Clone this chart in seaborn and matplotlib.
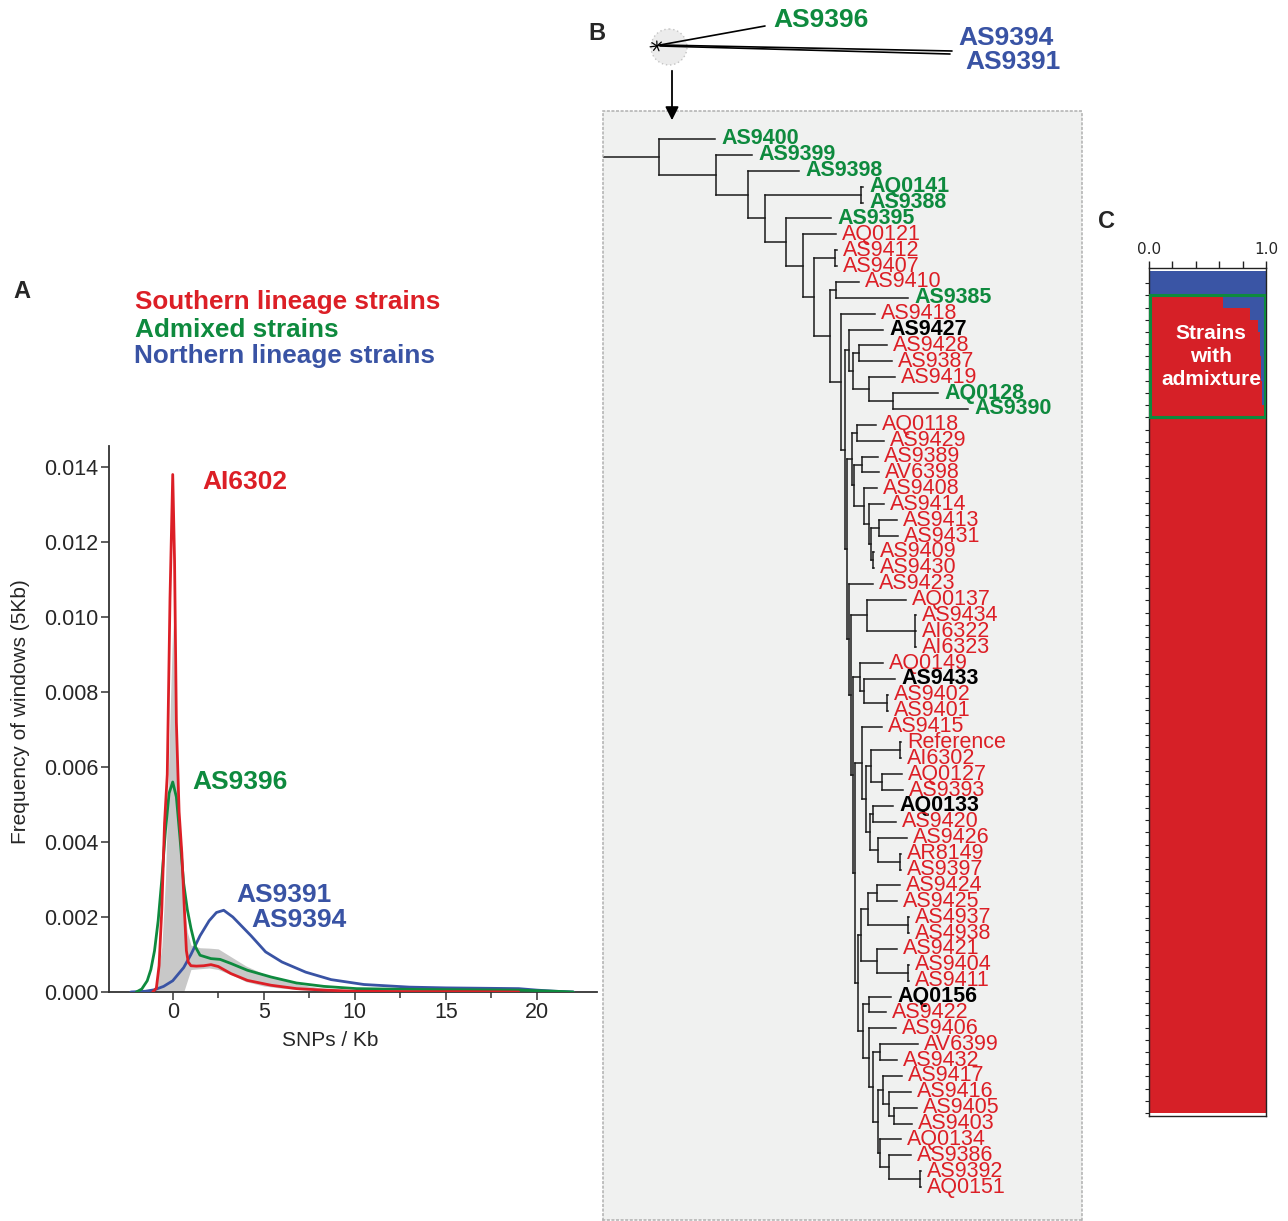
import matplotlib
matplotlib.use("Agg")
import numpy as np
import pandas as pd
import matplotlib.pyplot as plt
from matplotlib.patches import Circle, Rectangle
from matplotlib.collections import LineCollection
import seaborn as sns


W, H = 1288, 1221
RED = "#dc1f26"
GREEN = "#0e8a3e"
BLUE = "#3953a4"
BAR_RED = "#d62027"
BAR_BLUE = "#3a55a5"

# ---- panel A: SNP density per strain ----
ai6302_x = [-1.1, -0.9, -0.75, -0.6, -0.45, -0.3, -0.15, 0, 0.1, 0.2, 0.35, 0.5, 0.65, 0.75,
            0.85, 1.0, 1.3, 1.7, 2.1, 2.5, 3.2, 4.1, 5.4, 6.8, 8.3, 10, 13, 16, 19]
ai6302_y = [0, 0.0001, 0.0007, 0.0022, 0.0045, 0.0058, 0.0105, 0.0138, 0.0115, 0.0072, 0.0048,
            0.0037, 0.0021, 0.0011, 0.0008, 0.0007, 0.00069, 0.0007, 0.00073, 0.00068, 0.00049,
            0.00031, 0.00018, 0.00009, 0.00005, 0.00002, 0.00001, 0.00001, 0]

as9396_x = [-2.0, -1.7, -1.4, -1.2, -1.0, -0.8, -0.6, -0.4, -0.2, 0, 0.2, 0.4, 0.6, 0.8, 1.0,
            1.25, 1.5, 2.1, 2.6, 3.2, 4.1, 5.4, 6.8, 8.3, 10.1, 13, 16, 19, 21, 22]
as9396_y = [0, 0.00008, 0.0003, 0.0006, 0.0011, 0.0019, 0.003, 0.0043, 0.0053, 0.0056, 0.0052,
            0.0041, 0.0029, 0.0022, 0.0017, 0.0012, 0.00098, 0.00089, 0.00087, 0.00076, 0.00058,
            0.0004, 0.00024, 0.00015, 0.00009, 0.00007, 0.00006, 0.00005, 0.00002, 0]

as9391_x = [-2.3, -1.5, -1.0, -0.5, 0, 0.6, 1.0, 1.5, 2.0, 2.4, 2.8, 3.3, 3.8, 4.3, 5.1, 6.0,
            7.3, 8.7, 10.5, 13, 15, 17, 19, 20, 21, 22]
as9391_y = [0, 0.00002, 0.00006, 0.00015, 0.0003, 0.00065, 0.001, 0.0015, 0.0019, 0.00212,
            0.00218, 0.002, 0.00175, 0.0015, 0.00107, 0.0008, 0.00053, 0.00033, 0.0002, 0.00013,
            0.00011, 0.0001, 0.00009, 0.00005, 0.00002, 0]

# grey envelope of the southern lineage strains
band_x = [-1.2, -0.9, -0.6, -0.4, -0.2, 0, 0.2, 0.4, 0.6, 0.8, 1.0, 1.5, 2.0, 2.5, 3.0, 3.5,
          4, 5, 6, 7, 8, 10, 12]
band_lo = [0, 0, 0, 0, 0, 0, 0, 0, 0, 0.0003, 0.0006, 0.00062, 0.00064, 0.0006, 0.0005,
           0.0004, 0.00028, 0.00016, 0.0001, 0.00006, 0.00003, 0, 0]
band_hi = [0, 0.0002, 0.0012, 0.003, 0.0065, 0.0098, 0.0068, 0.004, 0.0024, 0.0016, 0.00125,
           0.00118, 0.00117, 0.00115, 0.001, 0.00085, 0.0007, 0.00048, 0.00032, 0.0002,
           0.00012, 0.00005, 0]

# ---- panel B: tree, "name@depth" where depth is the node position along the tree ----
CLADE_J = "(AS9427@280,((AS9428@284,AS9387@289)@256,(AS9419@292,(AQ0128@335,AS9390@365)@290)@266)@250)@246"
CLADE_P = ("((AQ0118@273,AS9429@281)@254,((AS9389@275,AV6398@276)@259,(AS9408@274,(AS9414@281,"
           "((AS9413@294,AS9431@295)@276,(AS9409@271,AS9430@271)@270)@268)@266)@261)@251)@249")
CLADE_C4 = "(AQ0137@303,(AS9434@313,AI6322@313,AI6323@313)@312)@264"
CLADE_C5 = "(AQ0149@280,(AS9433@292,(AS9402@285,AS9401@285)@284)@261)@257"
CLADE_C6 = ("(AS9415@279,(((Reference@298,AI6302@298)@297,(AQ0127@299,AS9393@300)@279)@268,"
            "((AQ0133@290,AS9420@293)@270,(AS9426@304,(AR8149@298,AS9397@298)@297)@275)@267)@263)@259")
CLADE_C7 = ("(((AS9424@297,AS9425@294)@274,(AS4937@306,AS4938@306)@305)@265,"
            "(AS9421@294,(AS9404@306,AS9411@306)@305)@274)@258")
CLADE_C8 = ("((AQ0156@288,AS9422@283)@266,(AS9406@293,((AV6399@315,AS9432@294)@277,"
            "((AS9417@299,(AS9416@308,(AS9405@314,AS9403@309)@291)@286)@280,"
            "(AQ0134@298,(AS9386@308,(AS9392@318,AQ0151@318)@317)@286)@277)@275)@270)@266)@260")
CLADE_X2 = ("(" + CLADE_P + ",(AS9423@270,(" + CLADE_C4 + ",(" + CLADE_C5 + ",(" + CLADE_C6 +
            ",(" + CLADE_C7 + "," + CLADE_C8 + ")@255)@252)@250)@248)@246)@244")
TREE = ("(AS9400@112,(AS9399@149,(AS9398@196,((AQ0141@260,AS9388@260)@258,(AS9395@228,"
        "(AQ0121@233,((AS9412@234,AS9407@234)@232,((AS9410@256,AS9385@305)@233,"
        "(AS9418@272,(" + CLADE_J + "," + CLADE_X2 + ")@242)@238)@227)@211)@200)@183)@162)@145)@113)@56")

GREEN_LEAVES = ["AS9400", "AS9399", "AS9398", "AQ0141", "AS9388", "AS9395", "AS9385", "AQ0128", "AS9390"]
BLACK_LEAVES = ["AS9427", "AS9433", "AQ0133", "AQ0156"]

# ---- panel C: northern ancestry fraction per strain ----
north_q = [1.0, 1.0]
admix_q = [0.37, 0.14, 0.065, 0.055, 0.05, 0.045, 0.04, 0.035, 0.03, 0.02]
south_q = [0.0] * 57


def parse(s):
    pos = 0

    def node():
        nonlocal pos
        if s[pos] == "(":
            pos += 1
            kids = [node()]
            while s[pos] == ",":
                pos += 1
                kids.append(node())
            pos += 1
            name = None
        else:
            j = pos
            while s[pos] != "@":
                pos += 1
            name = s[j:pos]
            kids = []
        pos += 1
        j = pos
        while pos < len(s) and s[pos] not in ",)":
            pos += 1
        return {"name": name, "depth": float(s[j:pos]), "kids": kids}

    return node()


leaves = []


def layout(n):
    if not n["kids"]:
        n["y"] = len(leaves)
        leaves.append(n)
        return
    for k in n["kids"]:
        layout(k)
    n["y"] = (n["kids"][0]["y"] + n["kids"][-1]["y"]) / 2


def collect(n, segs):
    for k in n["kids"]:
        segs.append([(n["depth"], k["y"]), (k["depth"], k["y"])])
        collect(k, segs)
    if n["kids"]:
        segs.append([(n["depth"], n["kids"][0]["y"]), (n["depth"], n["kids"][-1]["y"])])


def fig_rect(x0, y0, x1, y1):
    return [x0 / W, 1 - y1 / H, (x1 - x0) / W, (y1 - y0) / H]


sns.set_theme(style="ticks")
plt.rcParams["font.family"] = ["Liberation Sans", "DejaVu Sans"]

fig = plt.figure(figsize=(W / 100, H / 100), dpi=100)

# ---------------- panel A ----------------
ax = fig.add_axes(fig_rect(109, 446, 597, 992))
ax.fill_between(band_x, band_lo, band_hi, color="#c8c8c8", lw=0, zorder=1)
dens = pd.concat([
    pd.DataFrame({"strain": "AI6302", "snp": ai6302_x, "freq": ai6302_y}),
    pd.DataFrame({"strain": "AS9396", "snp": as9396_x, "freq": as9396_y}),
    pd.DataFrame({"strain": "AS9391", "snp": as9391_x, "freq": as9391_y}),
])
sns.lineplot(data=dens, x="snp", y="freq", hue="strain", ax=ax, legend=False,
             palette={"AI6302": RED, "AS9396": GREEN, "AS9391": BLUE},
             hue_order=["AS9391", "AS9396", "AI6302"], linewidth=2.0, zorder=3)
ax.set_xlim(-3.5, 23.3)
ax.set_ylim(0, 0.01456)
ax.set_xticks([0, 5, 10, 15, 20])
ax.set_xticks([2.5, 7.5, 12.5, 17.5], minor=True)
ax.set_yticks(np.arange(0, 0.0141, 0.002))
ax.yaxis.set_major_formatter(matplotlib.ticker.FormatStrFormatter("%.3f"))
ax.tick_params(axis="both", labelsize=15.5, length=6, width=1.1, color="#333333", pad=1.5)
ax.tick_params(axis="x", which="minor", length=4, width=1.1, color="#333333")
for s in ["top", "right"]:
    ax.spines[s].set_visible(False)
for s in ["left", "bottom"]:
    ax.spines[s].set_color("#333333")
    ax.spines[s].set_linewidth(1.3)
ax.set_xlabel("SNPs / Kb", fontsize=15)
ax.set_ylabel("Frequency of windows (5Kb)", fontsize=15)
ax.xaxis.set_label_coords(0.453, -0.072)
ax.yaxis.set_label_coords(-0.162, 0.513)
ax.set_facecolor("none")
ax.text(1.6, 0.0136, "AI6302", color=RED, fontsize=19, fontweight="bold", va="center")
ax.text(1.05, 0.0056, "AS9396", color=GREEN, fontsize=19, fontweight="bold", va="center")
ax.text(3.5, 0.00259, "AS9391", color=BLUE, fontsize=19, fontweight="bold", va="center")
ax.text(4.3, 0.00191, "AS9394", color=BLUE, fontsize=19, fontweight="bold", va="center")

# ---------------- panel B ----------------
root = parse(TREE)
layout(root)
segs = [[(0, root["y"]), (root["depth"], root["y"])]]
collect(root, segs)

axb = fig.add_axes(fig_rect(603, 111, 1082, 1220))
axb.set_facecolor("#f0f1f0")
axb.add_collection(LineCollection(segs, colors="#1a1a1a", linewidths=1.1, capstyle="projecting"))
for lf in leaves:
    nm = lf["name"]
    if nm in GREEN_LEAVES:
        col, wt = GREEN, "bold"
    elif nm in BLACK_LEAVES:
        col, wt = "black", "bold"
    else:
        col, wt = RED, "normal"
    axb.text(lf["depth"] + 6, lf["y"], nm, color=col, fontweight=wt, fontsize=15.5,
             va="center", ha="left")
axb.set_xlim(0, 479)
axb.set_ylim(68.07, -1.763)
axb.set_xticks([])
axb.set_yticks([])
for s in axb.spines.values():
    s.set_linestyle((0, (1, 2)))
    s.set_color("#b0b0b0")
    s.set_linewidth(1.1)

# ---------------- panel C ----------------
q = north_q + admix_q + south_q
rows = np.arange(len(q))
axc = fig.add_axes(fig_rect(1149, 268, 1266, 1116))
axc.barh(rows, [1.0] * len(q), height=1.0, color=BAR_RED, lw=0)
axc.barh(rows, q, left=[1 - v for v in q], height=1.0, color=BAR_BLUE, lw=0)
n0 = len(north_q)
axc.add_patch(Rectangle((0.005, n0 - 0.5), 0.99, len(admix_q), fill=False,
                        edgecolor=GREEN, lw=2.2, zorder=5))
axc.text(0.53, n0 - 0.5 + len(admix_q) / 2, "Strains\nwith\nadmixture", color="white",
         fontsize=15, fontweight="bold", ha="center", va="center", linespacing=1.25, zorder=6)
axc.set_xlim(0, 1)
axc.set_ylim(len(q) - 0.25, -0.75)
axc.xaxis.tick_top()
axc.set_xticks([0, 0.2, 0.4, 0.6, 0.8, 1.0])
axc.set_xticklabels(["0.0", "", "", "", "", "1.0"], family="DejaVu Sans", fontsize=11)
axc.set_yticks(np.arange(len(q)) + 0.5)
axc.set_yticklabels([])
axc.tick_params(axis="x", length=5, width=1, color="#222222", pad=3)
axc.tick_params(axis="y", length=3, width=0.8, color="#222222")
for s in axc.spines.values():
    s.set_color("#222222")
    s.set_linewidth(1.0)

# ---------------- overlay: panel letters, legend, inset ----------------
ov = fig.add_axes([0, 0, 1, 1])
ov.set_xlim(0, W)
ov.set_ylim(H, 0)
ov.axis("off")
ov.text(22, 291, "A", fontsize=17, fontweight="bold", ha="center", va="center")
ov.text(597, 34, "B", fontsize=17, fontweight="bold", ha="center", va="center")
ov.text(1107, 222, "C", fontsize=17, fontweight="bold", ha="center", va="center")

ov.text(135, 302, "Southern lineage strains", color=RED, fontsize=18.8, fontweight="bold", va="center")
ov.text(135, 330, "Admixed strains", color=GREEN, fontsize=18.8, fontweight="bold", va="center")
ov.text(134, 356, "Northern lineage strains", color=BLUE, fontsize=18.8, fontweight="bold", va="center")

ov.add_patch(Circle((669, 47), 18, facecolor="#ececec", edgecolor="#c4c4c4", lw=1,
                    linestyle=(0, (1, 2))))
ov.plot([660, 765], [45, 26], color="black", lw=1.2)
ov.plot([660, 952], [45, 51], color="black", lw=1.2)
ov.plot([660, 950], [46, 54], color="black", lw=1.2)
for a in [0.3, 0.9, 1.6, 2.4, 3.3, 4.2, 5.0]:
    ov.plot([657, 657 + 7 * np.cos(a)], [46, 46 - 5 * np.sin(a)], color="black", lw=0.9)
ov.text(773, 20, "AS9396", color=GREEN, fontsize=19, fontweight="bold", va="center")
ov.text(958, 38, "AS9394", color=BLUE, fontsize=19, fontweight="bold", va="center")
ov.text(965, 62, "AS9391", color=BLUE, fontsize=19, fontweight="bold", va="center")
ov.annotate("", xy=(672, 123), xytext=(672, 68),
            arrowprops=dict(arrowstyle="-|>", color="black", lw=1.3, mutation_scale=20))

fig.savefig("out.png", dpi=100)
